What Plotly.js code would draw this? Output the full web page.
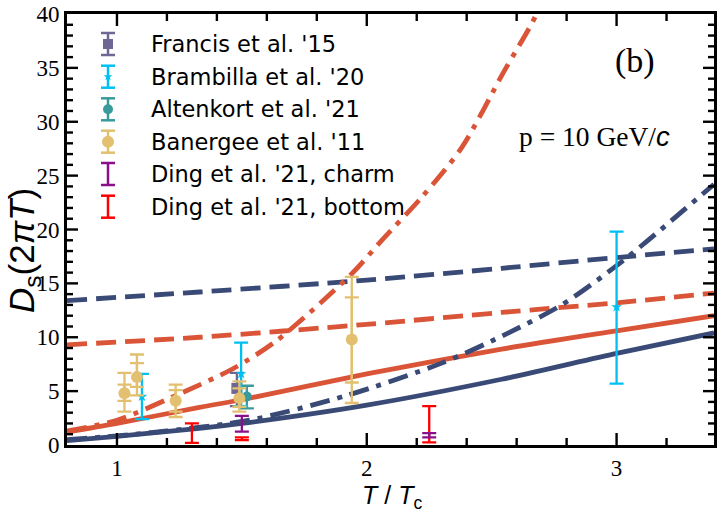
<!DOCTYPE html>
<html>
<head>
<meta charset="utf-8">
<script src="https://cdn.plot.ly/plotly-3.0.1.min.js"></script>
<style>html,body{margin:0;padding:0;background:#fff}#chart{width:722px;height:513px}</style>
</head>
<body>
<div id="chart"></div>
<script>
// ---- model curves ----
const blueSolidX = [0.8, 1.0, 1.33, 1.5, 2.0, 2.54, 3.0, 3.39];
const blueSolidY = [0.4, 0.8, 1.55, 2.0, 3.7, 6.1, 8.5, 10.4];
const redSolidX = [0.8, 1.0, 1.33, 1.5, 2.0, 2.54, 3.0, 3.39];
const redSolidY = [1.2, 2.0, 3.5, 4.2, 6.6, 8.9, 10.6, 12.0];
const blueDashX = [0.8, 1.33, 2.0, 2.54, 3.0, 3.39];
const blueDashY = [13.4, 14.2, 15.3, 16.4, 17.4, 18.2];
const redDashX = [0.8, 1.33, 2.0, 2.54, 3.0, 3.39];
const redDashY = [9.3, 10.0, 11.2, 12.3, 13.2, 14.1];
const redDashDotX = [0.8, 1.0, 1.265, 1.466, 1.64, 1.94, 2.06, 2.22, 2.38, 2.55, 2.66, 2.72];
const redDashDotY = [1.3, 2.3, 4.9, 7.1, 9.7, 15.9, 19.0, 23.0, 27.6, 34.7, 39.1, 42.0];
const blueDashDotX = [0.8, 1.0, 1.2, 1.53, 1.92, 2.3, 2.54, 2.78, 3.02, 3.39];
const blueDashDotY = [0.5, 0.85, 1.3, 2.3, 4.6, 7.6, 10.1, 13.0, 17.0, 24.2];

// ---- lattice data ----
const francisX = [1.48];
const francisY = [5.25];
const francisErrP = [1.45];
const francisErrM = [1.65];

const brambillaX = [1.10, 1.497, 3.0];
const brambillaY = [4.5, 6.6, 12.8];
const brambillaErrP = [2.1, 2.9, 7.0];
const brambillaErrM = [2.1, 3.0, 7.1];

const altenkortX = [1.52];
const altenkortY = [4.5];
const altenkortErrP = [1.0];
const altenkortErrM = [1.1];

const banerjeeX = [1.03, 1.08, 1.235, 1.49, 1.94];
const banerjeeY = [4.8, 6.3, 4.1, 4.35, 9.8];
const banerjeeStatP = [0.8, 1.3, 1.0, 0.9, 3.9];
const banerjeeStatM = [0.7, 0.9, 1.0, 0.8, 4.0];
const banerjeeTotP = [1.9, 2.1, 1.5, 1.55, 5.8];
const banerjeeTotM = [1.7, 1.7, 1.5, 1.25, 5.9];

const dingCharmX = [1.5, 2.25];
const dingCharmLo = [1.25, 0.7];
const dingCharmHi = [2.7, 1.1];

const dingBottomX = [1.3, 1.5, 2.25];
const dingBottomLo = [0.2, 0.45, 0.25];
const dingBottomHi = [2.0, 0.7, 3.6];

const legendNames = ["Francis et al. '15", "Brambilla et al. '20", "Altenkort et al. '21",
                     "Banergee et al. '11", "Ding et al. '21, charm", "Ding et al. '21, bottom"];

// ---- axis ranges and tick positions ----
const xRange = [0.8, 3.39];
const yRange = [0, 40];
const xMajorTicks = [1, 2, 3];
const xMinorTicks = [1.2, 1.4, 1.6, 1.8, 2.2, 2.4, 2.6, 2.8, 3.2];
const yMajorTicks = [5, 10, 15, 20, 25, 30, 35];
const yMinorTicks = [1,2,3,4,6,7,8,9,11,12,13,14,16,17,18,19,21,22,23,24,26,27,28,29,31,32,33,34,36,37,38,39];

// ---- colors ----
const NAVY = '#3a4a77', RED = '#da5538';
const C_FR = '#6e6794', C_BR = '#00c0f2', C_AL = '#389a9a', C_BA = '#e2c070', C_DC = '#8b0f8b', C_DB = '#ff0000';

function mid(lo, hi){ return lo.map((v,i)=>(v+hi[i])/2); }
function half(lo, hi){ return lo.map((v,i)=>(hi[i]-v)/2); }

function curve(x, y, color, dash){
  return {x:x, y:y, type:'scatter', mode:'lines', showlegend:false, hoverinfo:'skip',
          line:{color:color, width:4.8, dash:dash, shape:'spline', smoothing:0.8}};
}
function errPts(x, y, ep, em, color, symbol, size, showMarker){
  return {x:x, y:y, type:'scatter', mode:'markers', showlegend:false,
    marker:{color:color, symbol:symbol, size:size, opacity:showMarker?1:0, line:{width:0}},
    error_y:{type:'data', symmetric:false, array:ep, arrayminus:em, color:color, thickness:2.3, width:7}};
}

const traces = [
  curve(blueSolidX, blueSolidY, NAVY, 'solid'),
  curve(redSolidX, redSolidY, RED, 'solid'),
  curve(blueDashX, blueDashY, NAVY, '20px,9px'),
  curve(redDashX, redDashY, RED, '20px,9px'),
  curve(redDashDotX, redDashDotY, RED, '20px,8px,5px,8px'),
  curve(blueDashDotX, blueDashDotY, NAVY, '20px,8px,5px,8px'),
  errPts(dingBottomX, mid(dingBottomLo, dingBottomHi), half(dingBottomLo, dingBottomHi), half(dingBottomLo, dingBottomHi), C_DB, 'circle', 4, false),
  errPts(dingCharmX, mid(dingCharmLo, dingCharmHi), half(dingCharmLo, dingCharmHi), half(dingCharmLo, dingCharmHi), C_DC, 'circle', 4, false),
  errPts(francisX, francisY, francisErrP, francisErrM, C_FR, 'square', 11, true),
  errPts(altenkortX, altenkortY, altenkortErrP, altenkortErrM, C_AL, 'circle', 10, true),
  errPts(brambillaX, brambillaY, brambillaErrP, brambillaErrM, C_BR, 'star', 8, true),
  errPts(banerjeeX, banerjeeY, banerjeeTotP, banerjeeTotM, C_BA, 'circle', 4, false),
  errPts(banerjeeX, banerjeeY, banerjeeStatP, banerjeeStatM, C_BA, 'circle', 12, true)
];

// ---- geometry helpers ----
const PL = 67, PT = 14, PW = 647, PH = 431;
function px(x){ return (x - PL) / PW; }
function py(y){ return (PT + PH - y) / PH; }
function xFrac(v){ return (v - xRange[0]) / (xRange[1] - xRange[0]); }
function yFrac(v){ return (v - yRange[0]) / (yRange[1] - yRange[0]); }

const shapes = [];
const annotations = [];

// ticks (inside, on all four sides)
const tickLine = {color:'#000', width:2.4};
function xTicks(vals, len){
  vals.forEach(v => {
    const f = xFrac(v);
    shapes.push({type:'line', xref:'paper', yref:'paper', x0:f, x1:f, y0:0, y1:len/PH, line:tickLine});
    shapes.push({type:'line', xref:'paper', yref:'paper', x0:f, x1:f, y0:1, y1:1-len/PH, line:tickLine});
  });
}
function yTicks(vals, len){
  vals.forEach(v => {
    const f = yFrac(v);
    shapes.push({type:'line', xref:'paper', yref:'paper', y0:f, y1:f, x0:0, x1:len/PW, line:tickLine});
    shapes.push({type:'line', xref:'paper', yref:'paper', y0:f, y1:f, x0:1, x1:1-len/PW, line:tickLine});
  });
}
xTicks(xMajorTicks, 12); xTicks(xMinorTicks, 7);
yTicks(yMajorTicks, 11); yTicks(yMinorTicks, 6);

// legend built from shapes + annotations
const legendColors = [C_FR, C_BR, C_AL, C_BA, C_DC, C_DB];
const legendMarkers = ['square', 'star', 'circle', 'circle', null, null];
const legendYs = [44, 76.7, 109.3, 141.7, 174, 206.7];
const IX = 108;
legendNames.forEach((name, i) => {
  const cy = legendYs[i], c = legendColors[i];
  const ln = {color:c, width:2.5};
  shapes.push({type:'line', xref:'paper', yref:'paper', x0:px(IX), x1:px(IX), y0:py(cy-11), y1:py(cy+11), line:ln});
  shapes.push({type:'line', xref:'paper', yref:'paper', x0:px(IX-7), x1:px(IX+7), y0:py(cy-11), y1:py(cy-11), line:ln});
  shapes.push({type:'line', xref:'paper', yref:'paper', x0:px(IX-7), x1:px(IX+7), y0:py(cy+11), y1:py(cy+11), line:ln});
  const m = legendMarkers[i];
  if (m === 'square') {
    shapes.push({type:'rect', xref:'paper', yref:'paper', x0:px(IX-5), x1:px(IX+5), y0:py(cy+5), y1:py(cy-5), fillcolor:c, line:{width:0}});
  } else if (m === 'circle') {
    const r = i === 3 ? 6 : 5;
    shapes.push({type:'circle', xref:'paper', yref:'paper', x0:px(IX-r), x1:px(IX+r), y0:py(cy+r), y1:py(cy-r), fillcolor:c, line:{width:0}});
  } else if (m === 'star') {
    let p = '';
    for (let k = 0; k < 10; k++) {
      const r = k % 2 === 0 ? 4.5 : 1.9;
      const a = -Math.PI/2 + k*Math.PI/5;
      p += (k === 0 ? 'M' : 'L') + px(IX + r*Math.cos(a)) + ',' + py(cy + r*Math.sin(a)) + ' ';
    }
    shapes.push({type:'path', xref:'paper', yref:'paper', path:p + 'Z', fillcolor:c, line:{width:0}});
  }
  annotations.push({xref:'paper', yref:'paper', x:px(149), y:py(cy), xanchor:'left', yanchor:'middle',
    text:name, showarrow:false, font:{family:'DejaVu Sans', size:22.5, color:'#000'}});
});

annotations.push({xref:'paper', yref:'paper', x:px(635), y:py(61), xanchor:'center', yanchor:'middle',
  text:'(b)', showarrow:false, font:{family:'Liberation Serif', size:34, color:'#000'}});
annotations.push({xref:'paper', yref:'paper', x:px(594), y:py(136), xanchor:'center', yanchor:'middle',
  text:'p = 10 GeV/<span style="font-family:Liberation Sans"><i>c</i></span>', showarrow:false,
  font:{family:'Liberation Serif', size:27.5, color:'#000'}});
annotations.push({xref:'paper', yref:'paper', x:px(392), y:py(497), xanchor:'center', yanchor:'middle',
  text:'<i>T</i> / <i>T</i><sub>c</sub>', showarrow:false, font:{family:'Liberation Sans', size:25, color:'#000'}});
annotations.push({xref:'paper', yref:'paper', x:px(24), y:py(250), xanchor:'center', yanchor:'middle', textangle:-90,
  text:'<i>D</i><sub>s</sub>(2<i>πT</i>)', showarrow:false, font:{family:'Liberation Sans', size:35, color:'#000'}});

const axisCommon = {
  showline:true, linecolor:'#000', linewidth:3, mirror:true,
  ticks:'', showgrid:false, zeroline:false,
  tickfont:{family:'Liberation Serif', size:23, color:'#000'}
};

const layout = {
  width:722, height:513,
  margin:{l:PL, r:722-PL-PW, t:PT, b:513-PT-PH},
  paper_bgcolor:'#fff', plot_bgcolor:'#fff',
  showlegend:false,
  xaxis:Object.assign({}, axisCommon, {range:xRange, tick0:0, dtick:1, ticklabelstandoff:0}),
  yaxis:Object.assign({}, axisCommon, {range:yRange, tick0:0, dtick:5}),
  shapes:shapes,
  annotations:annotations
};

Plotly.newPlot('chart', traces, layout, {displayModeBar:false, staticPlot:true});
</script>
</body>
</html>
